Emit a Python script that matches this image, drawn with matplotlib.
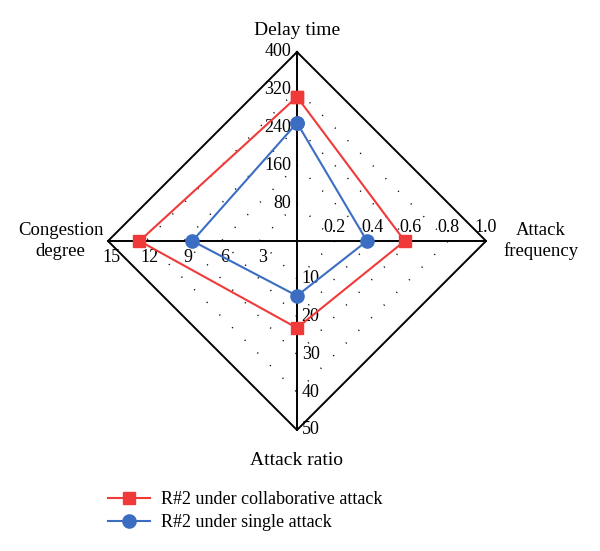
import numpy as np
import matplotlib
matplotlib.use('Agg')
import matplotlib.pyplot as plt

plt.rcParams['font.family'] = ['Liberation Serif', 'DejaVu Serif']

# axes: top, right, bottom, left
axis_names = ['Delay time', 'Attack\nfrequency', 'Attack ratio', 'Congestion\ndegree']
axis_max = [400, 1.0, 50, 15]
tick_labels = [['80', '160', '240', '320', '400'],
               ['0.2', '0.4', '0.6', '0.8', '1.0'],
               ['10', '20', '30', '40', '50'],
               ['3', '6', '9', '12', '15']]

collab = [305, 0.57, 23, 12.5]
single = [250, 0.37, 14.5, 8.3]
collab_name = 'R#2 under collaborative attack'
single_name = 'R#2 under single attack'

red = '#f03a3a'
blue = '#3b6ec2'

# unit directions of the four axes
dirs = np.array([[0, 1], [1, 0], [0, -1], [-1, 0]])


def to_xy(vals):
    r = np.array(vals) / np.array(axis_max)
    pts = dirs * r[:, None]
    pts = np.vstack([pts, pts[:1]])
    return pts[:, 0], pts[:, 1]


fig = plt.figure(figsize=(6.0, 5.51), dpi=100)
ax = fig.add_axes([0, 0, 1, 1])
ax.set_xlim(-297 / 189, 303 / 189)
ax.set_ylim(-310 / 189, 241 / 189)
ax.set_aspect('equal')
ax.axis('off')

# dotted grid
for lvl in [0.2, 0.4, 0.6, 0.8]:
    x, y = to_xy([lvl * m for m in axis_max])
    ax.plot(x, y, color='black', lw=1.1, linestyle=(0, (0.7, 11)), zorder=1)

# outer frame
x, y = to_xy(axis_max)
ax.plot(x, y, color='black', lw=1.4, zorder=2)
# axis lines
ax.plot([-1, 1], [0, 0], color='black', lw=1.4, zorder=2)
ax.plot([0, 0], [-1, 1], color='black', lw=1.4, zorder=2)

# tick labels
fs = 13
for k, lvl in enumerate([0.2, 0.4, 0.6, 0.8, 1.0]):
    ax.text(-0.03, lvl, tick_labels[0][k], ha='right', va='center', fontsize=fs)
    ax.text(lvl, 0.025, tick_labels[1][k], ha='center', va='bottom', fontsize=fs)
    ax.text(0.025, -lvl, tick_labels[2][k], ha='left', va='center', fontsize=fs)
    ax.text(-lvl + 0.02, -0.04, tick_labels[3][k], ha='center', va='top', fontsize=fs)

# axis titles
ft = 14
ax.text(0, 1.116, axis_names[0], ha='center', va='center', fontsize=ft)
ax.text(1.29, 0, axis_names[1], ha='center', va='center', fontsize=13.5, linespacing=1.25)
ax.text(0, -1.164, axis_names[2], ha='center', va='center', fontsize=ft)
ax.text(-1.25, 0, axis_names[3], ha='center', va='center', fontsize=13.5, linespacing=1.25)

# series
x, y = to_xy(collab)
l1, = ax.plot(x, y, color=red, lw=1.5, marker='s', markersize=8.5, zorder=4)
x, y = to_xy(single)
l2, = ax.plot(x, y, color=blue, lw=1.5, marker='o', markersize=9.5, zorder=5)

fig.legend([l1, l2], [collab_name, single_name], loc='upper left',
           bbox_to_anchor=(108 / 600, 1 - 491 / 551), frameon=False,
           borderaxespad=0, borderpad=0,
           fontsize=13, handlelength=2.3, labelspacing=0.35, handletextpad=0.65)

fig.savefig('out.png', dpi=100)
